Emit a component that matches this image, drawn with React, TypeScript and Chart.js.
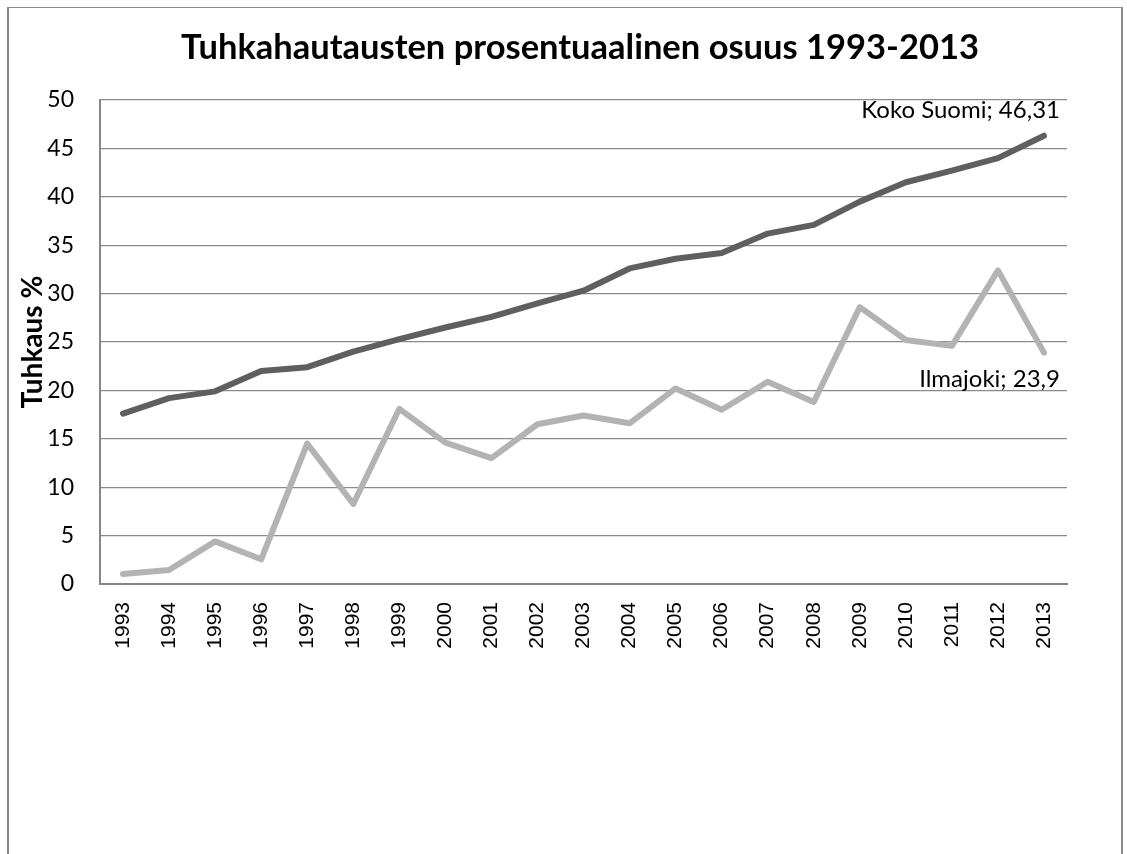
import React, { useEffect, useRef } from "react";
import { Chart, registerables } from "chart.js";

Chart.register(...registerables);

const years = ["1993","1994","1995","1996","1997","1998","1999","2000","2001","2002","2003","2004","2005","2006","2007","2008","2009","2010","2011","2012","2013"];
const kokoSuomi = [17.6,19.2,19.9,22.0,22.4,24.0,25.3,26.5,27.6,29.0,30.3,32.6,33.6,34.2,36.2,37.1,39.5,41.5,42.7,44.0,46.31];
const ilmajoki = [1.03,1.45,4.4,2.55,14.5,8.26,18.1,14.6,13.0,16.5,17.4,16.6,20.2,18.0,20.9,18.8,28.6,25.2,24.6,32.4,23.9];
const seriesNames = ["Koko Suomi", "Ilmajoki"];
const lastLabels = ["Koko Suomi; 46,31", "Ilmajoki; 23,9"];
const yTicks = [0, 5, 10, 15, 20, 25, 30, 35, 40, 45, 50];
const chartTitle = "Tuhkahautausten prosentuaalinen osuus 1993-2013";

const textPlugin = {
  id: "textPlugin",
  afterDraw(chart: any) {
    const ctx = chart.ctx;
    ctx.save();
    ctx.fillStyle = "#000";
    ctx.textAlign = "center";
    ctx.textBaseline = "alphabetic";
    ctx.font = "bold 34.5px Lato";
    ctx.fillText(chartTitle, 580, 58.5);
    ctx.font = "24px Lato";
    ctx.textAlign = "right";
    const offsets = [-17.5, 34];
    chart.data.datasets.forEach((ds: any, i: number) => {
      const meta = chart.getDatasetMeta(i);
      const pt = meta.data[meta.data.length - 1];
      ctx.fillText(lastLabels[i], pt.x + 16, pt.y + offsets[i]);
    });
    ctx.restore();
  },
};

export default function App() {
  const ref = useRef<HTMLCanvasElement | null>(null);
  useEffect(() => {
    if (!ref.current) return;
    const chart = new Chart(ref.current, {
      type: "line",
      data: {
        labels: years,
        datasets: [
          {
            label: seriesNames[0],
            data: kokoSuomi,
            borderColor: "#5f5f5f",
            backgroundColor: "#5f5f5f",
            borderWidth: 6,
            pointRadius: 0,
            tension: 0,
            borderCapStyle: "round",
            borderJoinStyle: "round",
          },
          {
            label: seriesNames[1],
            data: ilmajoki,
            borderColor: "#b3b3b3",
            backgroundColor: "#b3b3b3",
            borderWidth: 6,
            pointRadius: 0,
            tension: 0,
            borderCapStyle: "round",
            borderJoinStyle: "round",
          },
        ],
      },
      options: {
        responsive: false,
        animation: false,
        layout: { padding: { left: 0, right: 60, top: 100, bottom: 0 } },
        plugins: {
          legend: { display: false },
          tooltip: { enabled: false },
          title: { display: false },
        },
        scales: {
          x: {
            offset: true,
            grid: { display: false, drawTicks: false },
            border: { display: true, color: "#868686", width: 2 },
            ticks: {
              color: "#000",
              font: { family: "Liberation Sans", size: 21 },
              minRotation: 90,
              maxRotation: 90,
              padding: 18,
              autoSkip: false,
            },
            afterFit: (s: any) => { s.height = 270; },
          },
          y: {
            min: 0,
            max: 50,
            afterBuildTicks: (s: any) => { s.ticks = yTicks.map((v) => ({ value: v })); },
            grid: { color: "#8a8a8a", lineWidth: 1.3, drawTicks: false },
            border: { display: true, color: "#868686", width: 2 },
            ticks: {
              color: "#000",
              font: { family: "Lato", size: 23 },
              padding: 26,
            },
            title: {
              display: true,
              text: "Tuhkaus %",
              color: "#000",
              font: { family: "Lato", size: 28, weight: "bold" },
              padding: { top: 16, bottom: 0 },
            },
            afterFit: (s: any) => { s.width = 100; },
          },
        },
      },
      plugins: [textPlugin],
    });
    return () => chart.destroy();
  }, []);

  return (
    <div style={{ position: "fixed", left: 0, top: 0, width: 1127, height: 854, background: "#fff", overflow: "hidden" }}>
      <div style={{ position: "absolute", left: 7, top: 7, width: 1112, height: 900, borderLeft: "2px solid #8a8a8a", borderRight: "2px solid #8a8a8a", borderTop: "1.5px solid #8a8a8a" }} />
      <canvas ref={ref} width={1127} height={854} style={{ position: "absolute", left: 0, top: 0, width: 1127, height: 854 }} />
    </div>
  );
}
